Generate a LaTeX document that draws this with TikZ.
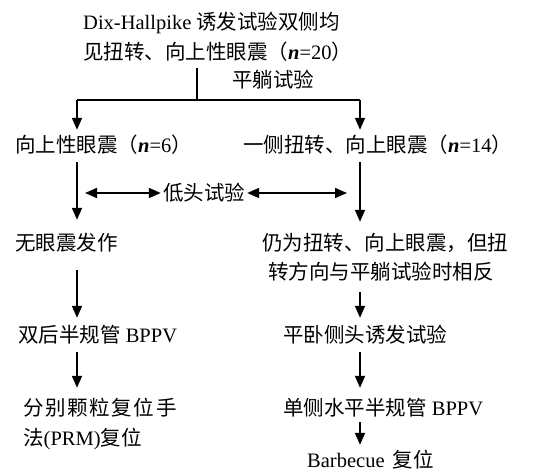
\documentclass[tikz,border=0pt]{standalone}
\usepackage{fontspec}
\setmainfont{Liberation Serif}
\newfontfamily\cjk{Noto Sans CJK SC}
\newfontfamily\cjkw[LetterSpace=8]{Noto Sans CJK SC}
\newcommand\zh[1]{{\cjk #1}}
\newcommand\nn{\textbf{\textit{n}}}
\usetikzlibrary{arrows.meta}
\begin{document}
\begin{tikzpicture}[x=1pt,y=-1pt,
  lbl/.style={anchor=west,inner sep=0pt,text height=17pt,text depth=2pt,font=\fontsize{20.5}{30}\selectfont},
  conn/.style={line width=1.8pt},
  arr/.style={conn,-{Triangle[width=10pt,length=12pt]}},
  darr/.style={conn,{Triangle[width=10pt,length=12pt]}-{Triangle[width=10pt,length=12pt]}}]
\useasboundingbox (0,0) rectangle (534,473);
% columns
\coordinate (colL) at (77,0);
\coordinate (colR) at (360,0);
\coordinate (trunk) at (197,68);
\coordinate (fork) at (197,100);
\coordinate (jl) at (77,100);
\coordinate (jr) at (360,100);
\coordinate (dl) at (85,193);
\coordinate (dr) at (347,193);
% nodes
\node[lbl] (t1) at (83,22) {Dix-Hallpike \zh{诱发试验双侧均}};
\node[lbl] (t2) at (83,52) {\zh{见扭转、向上性眼震（}\nn=20\zh{）}};
\node[lbl] (lab1) at (232,80) {\zh{平躺试验}};
\node[lbl] (a1) at (15,145) {\zh{向上性眼震（}\nn=6\zh{）}};
\node[lbl] (b1) at (243,145) {\zh{一侧扭转、向上眼震（}\nn=14\zh{）}};
\node[lbl,anchor=center,inner xsep=2pt] (mid) at (204,193) {\zh{低头试验}};
\node[lbl] (a2) at (15,243) {\zh{无眼震发作}};
\node[lbl] (b2a) at (262,243) {\zh{仍为扭转、向上眼震，但扭}};
\node[lbl] (b2b) at (268,272) {\zh{转方向与平躺试验时相反}};
\node[lbl] (a3) at (18,335) {\zh{双后半规管} BPPV};
\node[lbl] (b3) at (283,335) {\zh{平卧侧头诱发试验}};
\node[lbl] (a4a) at (23,408) {{\cjkw 分别颗粒复位手}};
\node[lbl] (a4b) at (23,438) {\zh{法}(PRM)\zh{复位}};
\node[lbl] (b4) at (283,408) {\zh{单侧水平半规管} BPPV};
\node[lbl] (b5) at (307,460) {Barbecue\hspace{3pt} \zh{复位}};
% connectors
\draw[conn] (trunk) -- (fork);
\draw[conn] (jl) -- (jr);
\draw[arr,shorten >=5.5pt] (jl) -- (a1.north -| colL);
\draw[arr,shorten >=5.5pt] (jr) -- (b1.north -| colR);
\draw[arr,shorten <=7.5pt,shorten >=13.5pt] (a1.south -| colL) -- (a2.north -| colL);
\draw[arr,shorten <=7.5pt,shorten >=11.5pt] (b1.south -| colR) -- (b2a.north -| colR);
\draw[darr] (dl) -- (mid.west);
\draw[darr] (mid.east) -- (dr);
\draw[arr,shorten <=17.5pt,shorten >=7.5pt] (a2.south -| colL) -- (a3.north -| colL);
\draw[arr,shorten <=10.5pt,shorten >=7.5pt] (b2b.south -| colR) -- (b3.north -| colR);
\draw[arr,shorten <=7.5pt,shorten >=10.5pt] (a3.south -| colL) -- (a4a.north -| colL);
\draw[arr,shorten <=7.5pt,shorten >=10.5pt] (b3.south -| colR) -- (b4.north -| colR);
\draw[arr,shorten <=4.5pt,shorten >=5.5pt] (b4.south -| colR) -- (b5.north -| colR);
\end{tikzpicture}
\end{document}
